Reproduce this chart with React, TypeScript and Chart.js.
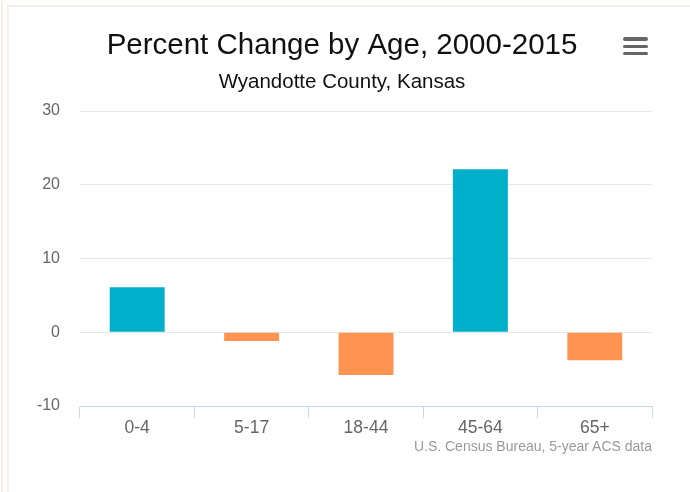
import React, { useEffect, useRef } from "react";
import { Chart, registerables } from "chart.js";

Chart.register(...registerables);

const categories = ["0-4", "5-17", "18-44", "45-64", "65+"];
const percentChange = [6.1, -1.2, -5.8, 22.1, -3.8];
const yTicks = [-10, 0, 10, 20, 30];

const TITLE = "Percent Change by Age, 2000-2015";
const SUBTITLE = "Wyandotte County, Kansas";
const CREDIT = "U.S. Census Bureau, 5-year ACS data";

const POS_COLOR = "#00afca";
const NEG_COLOR = "#ff9452";
const FONT = "'Liberation Sans', Arial, Helvetica, sans-serif";

export default function App() {
  const ref = useRef<HTMLCanvasElement | null>(null);

  useEffect(() => {
    if (!ref.current) return;
    const chart = new Chart(ref.current, {
      type: "bar",
      data: {
        labels: categories,
        datasets: [
          {
            label: "Percent Change",
            data: percentChange,
            backgroundColor: (ctx: any) =>
              (ctx.raw as number) >= 0 ? POS_COLOR : NEG_COLOR,
            borderWidth: 0,
            barPercentage: 0.48,
            categoryPercentage: 1,
          },
        ],
      },
      options: {
        animation: false,
        responsive: false,
        maintainAspectRatio: false,
        layout: { padding: { left: 32, right: 38, top: 0, bottom: 0 } },
        plugins: {
          legend: { display: false },
          tooltip: { enabled: false },
          title: {
            display: true,
            text: TITLE,
            color: "#111",
            font: { family: FONT, size: 29.5, weight: "normal" },
            padding: { top: 28, bottom: 2 },
          },
          subtitle: {
            display: true,
            text: SUBTITLE,
            color: "#111",
            font: { family: FONT, size: 20.5, weight: "normal" },
            padding: { top: 5, bottom: 16 },
          },
        },
        scales: {
          x: {
            grid: {
              display: true,
              offset: true,
              drawOnChartArea: false,
              drawTicks: true,
              tickLength: 12,
              color: "#ccd6eb",
            },
            border: { display: true, color: "#ccd6eb", width: 1 },
            ticks: {
              color: "#666",
              padding: 0,
              font: { family: FONT, size: 17.5 },
            },
            afterFit: (s: any) => {
              s.height = 86;
            },
          },
          y: {
            min: yTicks[0],
            max: yTicks[yTicks.length - 1],
            afterBuildTicks: (s: any) => {
              s.ticks = yTicks.map((v) => ({ value: v }));
            },
            grid: { color: "#e6e6e6", drawTicks: false, lineWidth: 1 },
            border: { display: false },
            ticks: {
              color: "#666",
              padding: 20,
              font: { family: FONT, size: 16 },
            },
            afterFit: (s: any) => {
              s.width = 48;
            },
          },
        },
      },
    });
    return () => chart.destroy();
  }, []);

  const bar = (top: number) => (
    <div
      style={{
        position: "absolute",
        left: 623,
        top,
        width: 25,
        height: 3.4,
        borderRadius: 2,
        background: "#666",
      }}
    />
  );

  return (
    <div
      style={{
        position: "fixed",
        left: 0,
        top: 0,
        width: 690,
        height: 492,
        background: "#fff",
        overflow: "hidden",
      }}
    >
      <canvas ref={ref} width={690} height={492} style={{ position: "absolute", left: 0, top: 0 }} />
      <div style={{ position: "absolute", left: 1, top: 0, width: 2, height: 492, background: "#f5eee9" }} />
      <div style={{ position: "absolute", left: 7, top: 5, width: 2, height: 487, background: "#f5eee9" }} />
      <div style={{ position: "absolute", left: 7, top: 5, width: 683, height: 2, background: "#f5eee9" }} />
      {bar(37.3)}
      {bar(44.7)}
      {bar(52)}
      <div
        style={{
          position: "absolute",
          right: 38,
          top: 438,
          fontFamily: FONT,
          fontSize: 14,
          lineHeight: "16px",
          color: "#999",
          whiteSpace: "nowrap",
        }}
      >
        {CREDIT}
      </div>
    </div>
  );
}
